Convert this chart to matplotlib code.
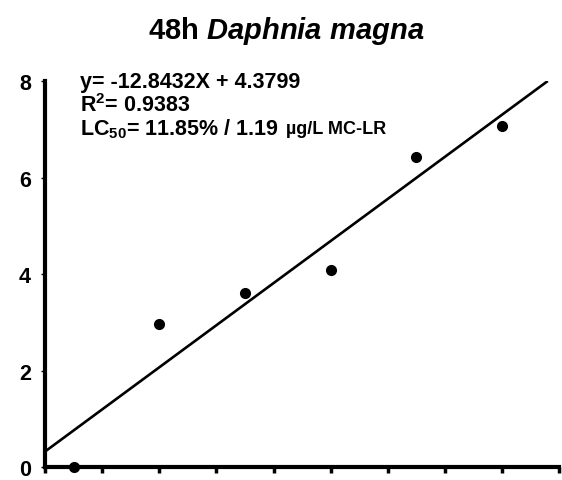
import matplotlib
matplotlib.use("Agg")
import matplotlib.pyplot as plt

# Data
conc_x = [0.5, 2.0, 3.5, 5.0, 6.5, 8.0]
probit_y = [0.0, 2.96, 3.61, 4.08, 6.42, 7.07]
fit_x = [0.0, 8.8]
fit_y = [0.32, 8.0]
x_ticks = list(range(0, 10))
y_ticks = [0, 2, 4, 6, 8]

TITLE = r"48h $\it{Daphnia\ magna}$"
EQ_LINES = [r"y= -12.8432X + 4.3799", r"R$^2$= 0.9383", r"LC$_{50}$= 11.85% / 1.19"]
UNIT_TEXT = "µg/L MC-LR"

plt.rcParams["font.family"] = ["Liberation Sans", "DejaVu Sans"]
plt.rcParams["mathtext.fontset"] = "custom"
plt.rcParams["mathtext.rm"] = "Liberation Sans:bold"
plt.rcParams["mathtext.bf"] = "Liberation Sans:bold"
plt.rcParams["mathtext.it"] = "Liberation Sans:bold:italic"

fig = plt.figure(figsize=(5.62, 4.81), dpi=100)
ax = fig.add_axes([0.080, 0.027, 0.915, 0.8025])

ax.plot(fit_x, fit_y, color="black", linewidth=1.9, solid_capstyle="butt")
ax.plot(conc_x, probit_y, "o", color="black", markersize=7, clip_on=False, zorder=3)

ax.set_xlim(0, 9)
ax.set_ylim(0, 8)
ax.set_xticks(x_ticks)
ax.set_xticklabels([])
ax.set_yticks(y_ticks)
ax.set_yticklabels([str(v) for v in y_ticks], fontsize=15.5, fontweight="bold")
ax.tick_params(axis="x", direction="out", length=4, width=2.5)
ax.tick_params(axis="y", direction="out", length=3, width=1, pad=7)

for side in ["top", "right"]:
    ax.spines[side].set_visible(False)
for side in ["left", "bottom"]:
    ax.spines[side].set_linewidth(3)

fig.text(0.51, 0.936, TITLE, ha="center", va="center", fontsize=21, fontweight="bold")

line_y = [8.0, 7.51, 7.02]
for txt, yy in zip(EQ_LINES, line_y):
    t = ax.text(0.62, yy, txt, ha="left", va="center", fontsize=15.5, fontweight="bold")
ax.annotate(UNIT_TEXT, xy=(1, 0.5), xycoords=t, xytext=(5, 0), textcoords="offset points",
            ha="left", va="center", fontsize=13, fontweight="bold")

fig.savefig("out.png", dpi=100)
